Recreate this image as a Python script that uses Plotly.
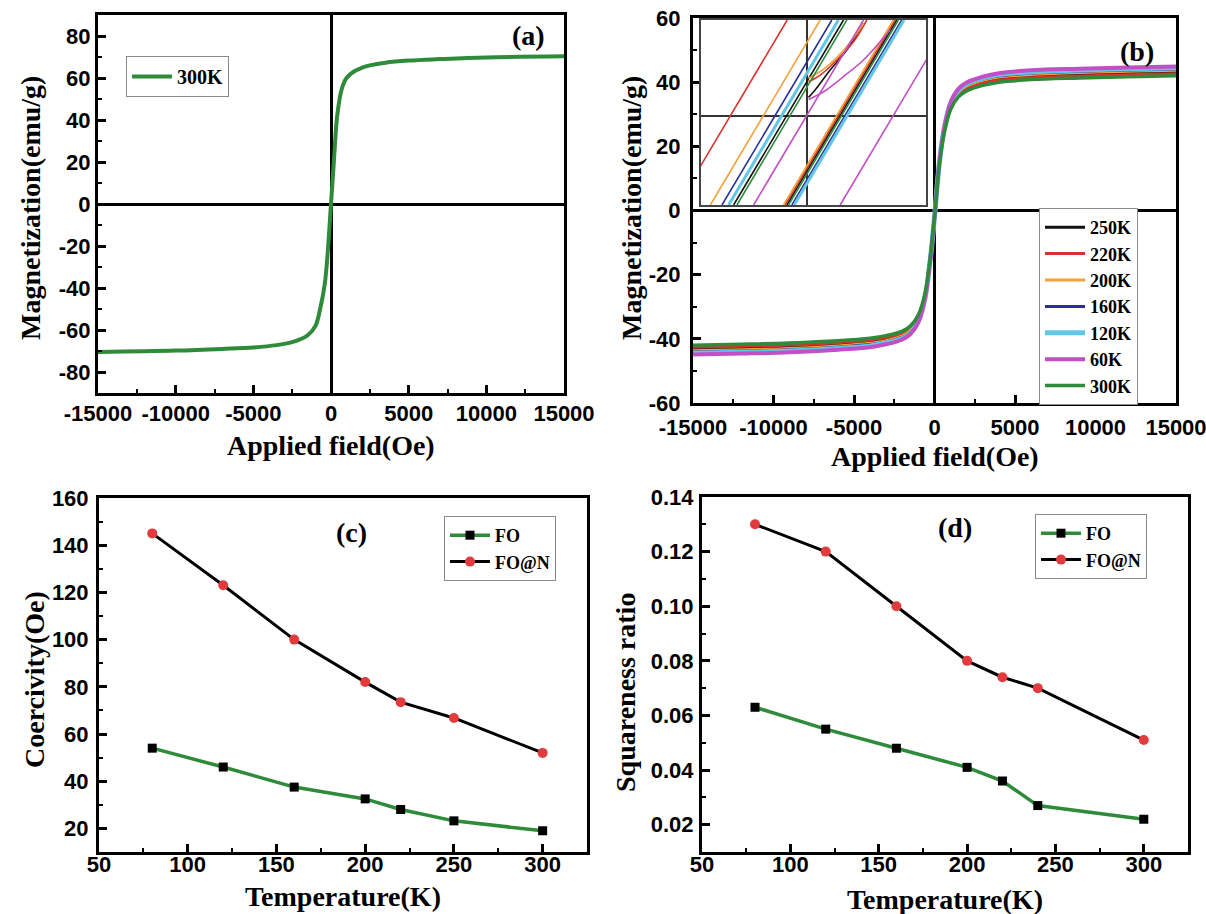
import plotly.graph_objects as go

W, H = 1206, 914

# ---------------- data ----------------
# (a) 300K loop
field_a = [-15000, -10000, -7000, -5000, -3500, -2500, -2000, -1500, -1000, -700, -400, -200, 0,
           200, 400, 700, 1000, 1500, 2000, 2500, 3500, 5000, 7000, 10000, 15000]
mag_a_300K = [-70.5, -69.8, -69.0, -68.3, -67.2, -65.8, -64.5, -62.5, -58.0, -50.0, -38.0, -22.0, 0.0,
              22.0, 42.0, 55.0, 60.0, 63.2, 64.9, 66.0, 67.3, 68.3, 69.0, 69.8, 70.3]

# (b) loops at several temperatures
field_b = [-15000, -12000, -9000, -6000, -4000, -3000, -2000, -1500, -1000, -600, -300, 0,
           300, 600, 1000, 1500, 2000, 3000, 4000, 6000, 9000, 12000, 15000]
temps_b = ["250K", "220K", "200K", "160K", "120K", "60K", "300K"]
mag_b = {
    "250K": [-43.1, -42.7, -42.3, -41.6, -40.8, -40.0, -38.5, -36.9, -33.3, -26.7, -16.4, -2.1,
             14.4, 24.6, 32.3, 36.4, 38.2, 40.0, 41.0, 41.8, 42.3, 42.7, 43.1],
    "220K": [-42.6, -42.3, -41.9, -41.2, -40.4, -39.6, -38.2, -36.5, -33.0, -26.4, -16.2, -2.0,
             14.2, 24.4, 32.0, 36.0, 37.9, 39.6, 40.6, 41.4, 41.9, 42.3, 42.6],
    "200K": [-43.7, -43.4, -43.0, -42.2, -41.4, -40.6, -39.1, -37.4, -33.8, -27.0, -16.6, -2.1,
             14.6, 25.0, 32.8, 36.9, 38.8, 40.6, 41.6, 42.4, 43.0, 43.4, 43.7],
    "160K": [-44.1, -43.8, -43.4, -42.6, -41.8, -41.0, -39.5, -37.8, -34.1, -27.3, -16.8, -2.1,
             14.7, 25.2, 33.1, 37.3, 39.2, 41.0, 42.0, 42.8, 43.4, 43.8, 44.1],
    "120K": [-44.5, -44.2, -43.8, -43.0, -42.2, -41.3, -39.9, -38.2, -34.5, -27.6, -17.0, -2.1,
             14.8, 25.4, 33.4, 37.6, 39.5, 41.3, 42.4, 43.2, 43.8, 44.2, 44.5],
    "60K": [-44.9, -44.6, -44.2, -43.4, -42.6, -41.7, -40.2, -38.5, -34.8, -27.8, -17.1, -2.1,
            15.0, 25.7, 33.7, 38.0, 39.9, 41.7, 42.8, 43.7, 44.2, 44.6, 44.9],
    "300K": [-42.0, -41.7, -41.3, -40.6, -39.8, -39.0, -37.6, -36.0, -32.5, -26.0, -16.0, -2.0,
             14.0, 24.0, 31.5, 35.5, 37.3, 39.0, 40.0, 40.8, 41.3, 41.7, 42.0],
}
colors_b = {"250K": "#111111", "220K": "#d8322e", "200K": "#f2a23a", "160K": "#2c2f96",
            "120K": "#62c6e6", "60K": "#c24fc6", "300K": "#2e8b3a"}
widths_b = {"250K": 3, "220K": 3, "200K": 3, "160K": 3, "120K": 5, "60K": 4, "300K": 3.5}

# (b) inset: low-field branches (Oe, emu/g); None separates branches
inset_x = {
    "250K": [-110.7, 55.3, None, -30.2, 135.8, None, 2.5, 12.5, 35.2, 60.3, 85.5],
    "220K": [-195.7, -29.7, None, -32.7, 133.3, None, 2.5, 20.1, 45.2, 70.4, 90.5],
    "200K": [-145.9, 20.1, None, -35.3, 130.7, None, 2.5, 30.2, 60.3, 85.5],
    "160K": [-128.3, 37.7, None, -22.7, 143.3],
    "120K": [-118.3, 47.7, None, -19.2, 146.8],
    "60K": [-80.5, 85.5, None, 50.3, 216.3, None, 2.5, 25.1, 55.3, 85.5, 125.7],
    "300K": [-105.7, 60.3, None, -27.7, 138.3],
}
inset_y = {
    "250K": [-2.4, 2.6, None, -2.4, 2.6, None, 0.51, 0.71, 1.25, 1.79, 2.5],
    "220K": [-2.4, 2.6, None, -2.4, 2.6, None, 0.93, 1.11, 1.52, 2.01, 2.6],
    "200K": [-2.4, 2.6, None, -2.4, 2.6, None, 1.02, 1.34, 1.88, 2.5],
    "160K": [-2.4, 2.6, None, -2.4, 2.6],
    "120K": [-2.4, 2.6, None, -2.4, 2.6],
    "60K": [-2.4, 2.6, None, -2.4, 2.6, None, 0.45, 0.66, 1.07, 1.52, 2.33],
    "300K": [-2.4, 2.6, None, -2.4, 2.6],
}

# (c) coercivity
temp_c = [80, 120, 160, 200, 220, 250, 300]
coer_FO = [54, 46, 37.5, 32.5, 28, 23.2, 19]
coer_FON = [145, 123, 100, 82, 73.5, 66.8, 52]

# (d) squareness
temp_d = [80, 120, 160, 200, 220, 240, 300]
sq_FO = [0.063, 0.055, 0.048, 0.041, 0.036, 0.027, 0.022]
sq_FON = [0.130, 0.120, 0.100, 0.080, 0.074, 0.070, 0.051]

# tick labels (hyphen minus as in the original)
field_ticks = [-15000, -10000, -5000, 0, 5000, 10000, 15000]
field_ticktext = ["-15000", "-10000", "-5000", "0", "5000", "10000", "15000"]
mag_a_ticks = [-80, -60, -40, -20, 0, 20, 40, 60, 80]
mag_a_ticktext = ["-80", "-60", "-40", "-20", "0", "20", "40", "60", "80"]
mag_b_ticks = [-60, -40, -20, 0, 20, 40, 60]
mag_b_ticktext = ["-60", "-40", "-20", "0", "20", "40", "60"]

GREEN = "#2e8b3a"
RED = "#e23b3e"

SERIF = "Liberation Serif"
SANS = "Liberation Sans"


def pxx(x):
    return x / W


def pyy(y):
    return 1 - y / H


fig = go.Figure()

# (a)
fig.add_trace(go.Scatter(x=field_a, y=mag_a_300K, mode="lines", name="300K",
                         line=dict(color=GREEN, width=4, shape="spline"),
                         xaxis="x", yaxis="y", legend="legend"))

# (b)
for t in temps_b:
    fig.add_trace(go.Scatter(x=field_b, y=mag_b[t], mode="lines", name=t,
                             line=dict(color=colors_b[t], width=widths_b[t], shape="spline"),
                             xaxis="x2", yaxis="y2", legend="legend2"))
# inset
for t in temps_b:
    fig.add_trace(go.Scatter(x=inset_x[t], y=inset_y[t], mode="lines", showlegend=False,
                             line=dict(color=colors_b[t], width=3 if t == "120K" else 1.6, shape="spline"),
                             xaxis="x5", yaxis="y5", hoverinfo="skip"))

# (c)
fig.add_trace(go.Scatter(x=temp_c, y=coer_FO, mode="lines+markers", name="FO",
                         line=dict(color=GREEN, width=3.5),
                         marker=dict(symbol="square", size=9, color="black"),
                         xaxis="x3", yaxis="y3", legend="legend3"))
fig.add_trace(go.Scatter(x=temp_c, y=coer_FON, mode="lines+markers", name="FO@N",
                         line=dict(color="black", width=3),
                         marker=dict(symbol="circle", size=10, color=RED),
                         xaxis="x3", yaxis="y3", legend="legend3"))

# (d)
fig.add_trace(go.Scatter(x=temp_d, y=sq_FO, mode="lines+markers", name="FO",
                         line=dict(color=GREEN, width=3.5),
                         marker=dict(symbol="square", size=9, color="black"),
                         xaxis="x4", yaxis="y4", legend="legend4"))
fig.add_trace(go.Scatter(x=temp_d, y=sq_FON, mode="lines+markers", name="FO@N",
                         line=dict(color="black", width=3),
                         marker=dict(symbol="circle", size=10, color=RED),
                         xaxis="x4", yaxis="y4", legend="legend4"))

tickfont = dict(family=SANS, size=22, color="black", weight="bold")


def ax(domain, rng, dtick, mdtick, anchor, zeroline=False, tick0=0, fmt=None, standoff=4,
       tickvals=None, ticktext=None):
    d = dict(domain=domain, range=rng, anchor=anchor, showline=True, linewidth=3,
             linecolor="black", mirror=True, ticks="inside", ticklen=8, tickwidth=2.5,
             tickcolor="black", showgrid=False,
             minor=dict(ticks="inside", ticklen=4, tickwidth=2, tickcolor="black",
                        tickmode="linear", dtick=mdtick, tick0=tick0, showgrid=False),
             tickfont=tickfont, zeroline=zeroline, zerolinecolor="black", zerolinewidth=2.5,
             ticklabelstandoff=standoff, automargin=False, ticklabeloverflow="allow")
    if tickvals is not None:
        d.update(tickmode="array", tickvals=tickvals, ticktext=ticktext)
    else:
        d.update(tickmode="linear", tick0=tick0, dtick=dtick)
    if fmt:
        d["tickformat"] = fmt
    return d


# panel pixel boxes
A = (98, 564, 15, 393)
B = (693, 1176, 18, 403)
C = (99, 587, 498, 852)
D = (702, 1188, 497, 852)
INS = (701, 926, 20, 205)


def dom(box):
    l, r, t, b = box
    return [pxx(l), pxx(r)], [pyy(b), pyy(t)]


xa, ya = dom(A)
xb, yb = dom(B)
xc, yc = dom(C)
xd, yd = dom(D)
xi, yi = dom(INS)

legend_common = dict(xanchor="left", yanchor="top", bgcolor="white", bordercolor="#8a8a8a",
                     borderwidth=1, font=dict(family=SERIF, size=20, color="black", weight="bold"),
                     tracegroupgap=0, itemwidth=40)
small_leg_font = dict(family=SERIF, size=18, color="black", weight="bold")

fig.update_layout(
    width=W, height=H, autosize=False,
    margin=dict(l=0, r=0, t=0, b=0, pad=0, autoexpand=False),
    paper_bgcolor="white", plot_bgcolor="white",
    xaxis=ax(xa, [-15000, 15000], 5000, 2500, "y", zeroline=True, standoff=-1,
             tickvals=field_ticks, ticktext=field_ticktext),
    yaxis=ax(ya, [-90, 90], 20, 10, "x", zeroline=True, standoff=0,
             tickvals=mag_a_ticks, ticktext=mag_a_ticktext),
    xaxis2=ax(xb, [-15000, 15000], 5000, 2500, "y2", zeroline=True, standoff=3,
              tickvals=field_ticks, ticktext=field_ticktext),
    yaxis2=ax(yb, [-60, 60], 20, 10, "x2", zeroline=True, standoff=5,
              tickvals=mag_b_ticks, ticktext=mag_b_ticktext),
    xaxis3=ax(xc, [50, 325], 50, 25, "y3", standoff=-9),
    yaxis3=ax(yc, [10, 160], 20, 10, "x3", standoff=3),
    xaxis4=ax(xd, [50, 325], 50, 25, "y4", standoff=-9),
    yaxis4=ax(yd, [0.01, 0.14], 0.02, 0.01, "x4", fmt=".2f", standoff=1),
    xaxis5=dict(domain=xi, range=[-160, 180], anchor="y5", showline=True, linewidth=1.5,
                linecolor="#444444", mirror=True, ticks="", showticklabels=False, showgrid=False,
                zeroline=True, zerolinecolor="#333333", zerolinewidth=1.5),
    yaxis5=dict(domain=yi, range=[-2.4, 2.6], anchor="x5", showline=True, linewidth=1.5,
                linecolor="#444444", mirror=True, ticks="", showticklabels=False, showgrid=False,
                zeroline=True, zerolinecolor="#333333", zerolinewidth=1.5),
    legend=dict(legend_common, x=pxx(126), y=pyy(56)),
    legend2=dict(legend_common, x=pxx(1039), y=pyy(208), font=small_leg_font),
    legend3=dict(legend_common, x=pxx(444), y=pyy(516), font=small_leg_font),
    legend4=dict(legend_common, x=pxx(1035), y=pyy(514), font=small_leg_font),
    showlegend=True,
)

titlefont = dict(family=SERIF, size=28, color="black", weight="bold")
annots = [
    ("Magnetization(emu/g)", 30, 208, -90),
    ("Applied field(Oe)", 331, 445, 0),
    ("Magnetization(emu/g)", 631, 208, -90),
    ("Applied field(Oe)", 935, 456, 0),
    ("Coercivity(Oe)", 34, 680, -90),
    ("Temperature(K)", 343, 896, 0),
    ("Squareness ratio", 625, 693, -90),
    ("Temperature(K)", 945, 899, 0),
    ("(a)", 528, 36, 0),
    ("(b)", 1137, 51, 0),
    ("(c)", 351, 532, 0),
    ("(d)", 955, 527, 0),
]
for text, x, y, ang in annots:
    fig.add_annotation(text=text, x=pxx(x), y=pyy(y), xref="paper", yref="paper",
                       xanchor="center", yanchor="middle", showarrow=False,
                       textangle=ang, font=titlefont)

fig.write_html("out.html")
